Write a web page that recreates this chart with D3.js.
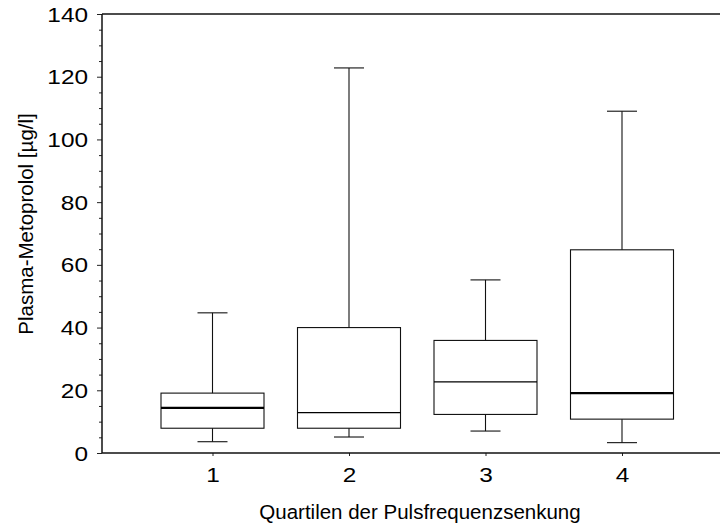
<!DOCTYPE html>
<html>
<head>
<meta charset="utf-8">
<script src="https://cdn.jsdelivr.net/npm/d3@7"></script>
<style>
  html, body { margin: 0; padding: 0; background: #fff; }
  svg { display: block; }
  text { font-family: "Liberation Sans", Arial, Helvetica, sans-serif; fill: #000; }
</style>
</head>
<body>
<svg id="chart" width="720" height="527"></svg>
<script>
// ---- data ----
const categories = ["1", "2", "3", "4"];
const whiskerLow  = [3.6, 5.1, 7.0, 3.3];
const q1          = [7.9, 7.9, 12.3, 10.8];
const median      = [14.4, 12.9, 22.7, 19.1];
const q3          = [19.1, 40.0, 35.9, 64.8];
const whiskerHigh = [44.7, 122.8, 55.2, 109.0];
const yTickValues = [0, 20, 40, 60, 80, 100, 120, 140];
const yMinorTickValues = d3.range(0, 141, 5);
const xTitle = "Quartilen der Pulsfrequenzsenkung";
const yTitle = "Plasma-Metoprolol [\u00b5g/l]";

// ---- style ----
const medianWidth = [2.2, 1.2, 1.2, 2.2];
const tickFontScaleX = 1.22;

const svg = d3.select("#chart");
const mLeft = 102, mRight = 720, mTop = 14, mBottom = 453;

const y = d3.scaleLinear().domain([0, 140]).range([mBottom, mTop]);
const x = d3.scalePoint().domain(categories).range([212.5, 622]);
const boxHalf = 51.5, capHalf = 15;

const data = categories.map((c, i) => ({
  c, lo: whiskerLow[i], q1: q1[i], med: median[i], q3: q3[i], hi: whiskerHigh[i], mw: medianWidth[i]
}));

// boxes
const g = svg.append("g");
data.forEach(d => {
  const cx = x(d.c);
  const bg = g.append("g").attr("stroke", "#111").attr("fill", "none").attr("stroke-width", 1.1);
  bg.append("line").attr("x1", cx).attr("x2", cx).attr("y1", y(d.q3)).attr("y2", y(d.hi));
  bg.append("line").attr("x1", cx).attr("x2", cx).attr("y1", y(d.q1)).attr("y2", y(d.lo));
  bg.append("line").attr("x1", cx - capHalf).attr("x2", cx + capHalf).attr("y1", y(d.hi)).attr("y2", y(d.hi));
  bg.append("line").attr("x1", cx - capHalf).attr("x2", cx + capHalf).attr("y1", y(d.lo)).attr("y2", y(d.lo));
  bg.append("rect").attr("x", cx - boxHalf).attr("width", boxHalf * 2)
    .attr("y", y(d.q3)).attr("height", y(d.q1) - y(d.q3));
  bg.append("line").attr("x1", cx - boxHalf).attr("x2", cx + boxHalf)
    .attr("y1", y(d.med)).attr("y2", y(d.med)).attr("stroke", "#000").attr("stroke-width", d.mw);
});

// y axis major
const yAxis = svg.append("g").attr("transform", `translate(${mLeft},0)`)
  .call(d3.axisLeft(y).tickValues(yTickValues).tickSize(5).tickPadding(9).tickFormat(d3.format("d")));
yAxis.select(".domain").remove();
yAxis.selectAll("text").style("font-size", "20px").attr("dy", "0.35em")
  .attr("x", -14 / tickFontScaleX).attr("transform", `scale(${tickFontScaleX},1)`);
yAxis.selectAll("line").attr("stroke", "#222");

// y axis minor
const yMinor = svg.append("g").attr("transform", `translate(${mLeft},0)`)
  .call(d3.axisLeft(y).tickValues(yMinorTickValues.filter(v => !yTickValues.includes(v))).tickSize(3).tickFormat(""));
yMinor.select(".domain").remove();
yMinor.selectAll("line").attr("stroke", "#222");

// x axis
const xAxis = svg.append("g").attr("transform", `translate(0,${mBottom})`)
  .call(d3.axisBottom(x).tickSize(3).tickPadding(12));
xAxis.select(".domain").remove();
xAxis.selectAll("text").style("font-size", "20px").attr("transform", `scale(${tickFontScaleX},1)`);
xAxis.selectAll("line").attr("stroke", "#222");

// frame lines
svg.append("line").attr("x1", mLeft).attr("x2", mLeft).attr("y1", mTop).attr("y2", mBottom)
  .attr("stroke", "#111").attr("stroke-width", 1.5);
svg.append("line").attr("x1", mLeft).attr("x2", mRight).attr("y1", mBottom).attr("y2", mBottom)
  .attr("stroke", "#111").attr("stroke-width", 1.5);
svg.append("line").attr("x1", mLeft).attr("x2", mRight).attr("y1", mTop).attr("y2", mTop)
  .attr("stroke", "#111").attr("stroke-width", 1.3);

// titles
svg.append("text").attr("x", 420).attr("y", 519).attr("text-anchor", "middle")
  .style("font-size", "20.5px").text(xTitle);
svg.append("text").attr("transform", "translate(33,224) rotate(-90)").attr("text-anchor", "middle")
  .style("font-size", "20.5px").text(yTitle);
</script>
</body>
</html>
